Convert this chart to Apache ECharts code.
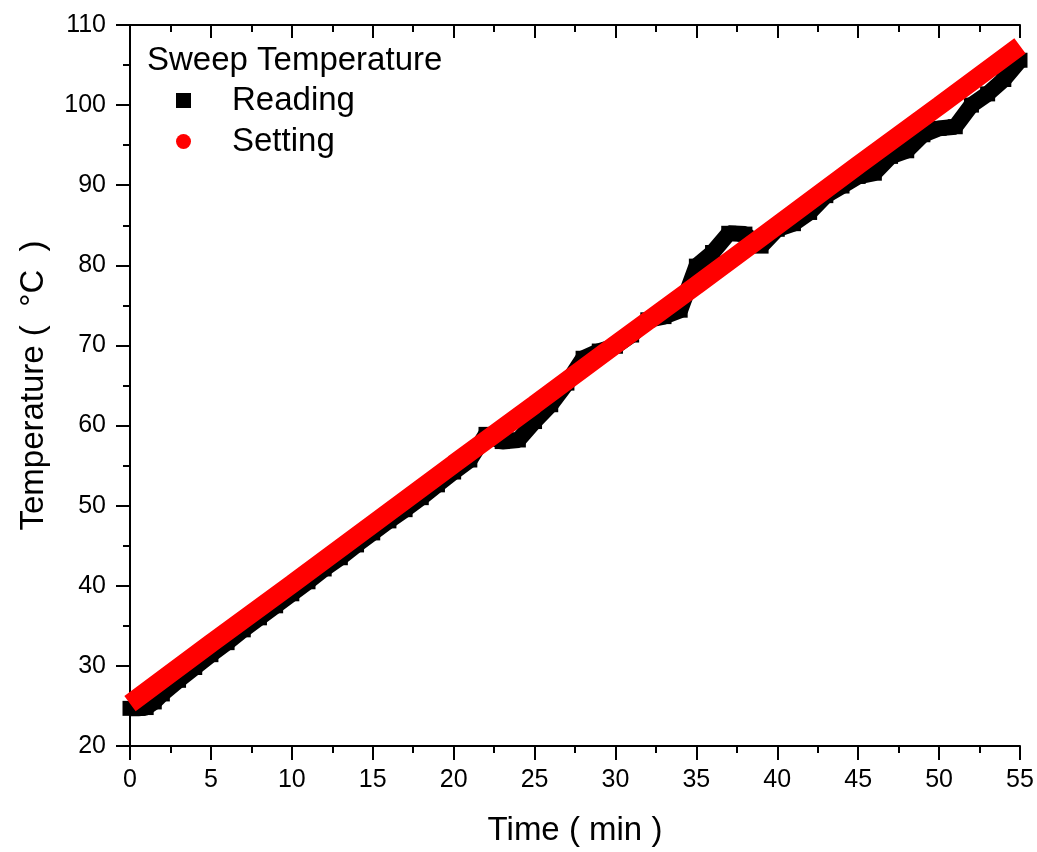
<!DOCTYPE html>
<html>
<head>
<meta charset="utf-8">
<title>Sweep Temperature</title>
<script src="https://cdn.jsdelivr.net/npm/echarts@6/dist/echarts.min.js"></script>
<style>
  html, body { margin: 0; padding: 0; background: #fff; }
  #chart { width: 1037px; height: 852px; }
</style>
</head>
<body>
<div id="chart"></div>
<script>
// reading (black squares)
const readTime = [0, 0.5, 1, 1.5, 2, 3, 4, 5, 6, 7, 8, 9, 10, 11, 12, 13, 14, 15, 16, 17, 18, 19, 20, 21, 22, 23, 24, 25, 26, 27, 28, 29, 30, 31, 32, 33, 34, 35, 36, 37, 38, 39, 40, 41, 42, 43, 44, 45, 46, 47, 48, 49, 50, 51, 52, 53, 54, 55]
const readTemp = [24.7, 24.7, 24.8, 25.5, 26.5, 28.2, 29.8, 31.4, 32.9, 34.5, 36.0, 37.5, 39.0, 40.5, 42.1, 43.5, 45.1, 46.6, 48.1, 49.5, 51.0, 52.6, 54.2, 55.7, 58.9, 58.0, 58.2, 60.5, 62.6, 65.3, 68.4, 69.3, 69.9, 71.3, 73.2, 73.6, 74.4, 79.9, 81.6, 84.0, 83.9, 82.4, 84.5, 85.2, 86.6, 88.7, 89.9, 91.1, 91.5, 93.6, 94.3, 96.3, 97.1, 97.3, 100.0, 101.4, 103.2, 105.6]

// setting (red circles)
const setTime = [0, 5, 10, 15, 20, 25, 30, 35, 40, 45, 50, 55]
const setTemp = [25.3, 32.8, 40.2, 47.7, 55.2, 62.6, 70.1, 77.5, 85.0, 92.5, 99.9, 107.4]

const chart = echarts.init(document.getElementById('chart'))

const font = 'Liberation Sans, Arial, sans-serif'
const axisLine = { lineStyle: { color: '#000', width: 2 } }

const xBase = { type: 'value', min: 0, max: 55, interval: 5, splitLine: { show: false } }
const yBase = { type: 'value', min: 20, max: 110, interval: 10, splitLine: { show: false } }

const option = {
  animation: false,
  backgroundColor: '#fff',
  title: {
    text: 'Sweep Temperature',
    left: 147,
    top: 44,
    padding: 0,
    textStyle: { fontFamily: font, fontSize: 33, fontWeight: 'normal', color: '#000' }
  },
  legend: {
    orient: 'vertical',
    left: 176,
    top: 84,
    padding: 0,
    itemWidth: 15,
    itemHeight: 15,
    itemGap: 8,
    textStyle: { fontFamily: font, fontSize: 33, color: '#000', padding: [0, 0, 0, 36] },
    data: [
      { name: 'Reading', icon: 'rect' },
      { name: 'Setting', icon: 'circle' }
    ]
  },
  grid: { left: 130, right: 17, top: 25, bottom: 104 },
  xAxis: [
    Object.assign({}, xBase, {
      position: 'bottom',
      name: 'Time ( min )',
      nameLocation: 'middle',
      nameGap: 68,
      nameTextStyle: { fontFamily: font, fontSize: 33, color: '#000' },
      axisLine: axisLine,
      axisTick: { inside: false, length: 14, lineStyle: { color: '#000', width: 2 } },
      minorTick: { show: true, splitNumber: 2, length: 7, lineStyle: { color: '#000', width: 2 } },
      axisLabel: { margin: 22, fontFamily: font, fontSize: 25, color: '#000' }
    }),
    Object.assign({}, xBase, {
      position: 'top',
      axisLine: axisLine,
      axisTick: { inside: true, length: 13, lineStyle: { color: '#000', width: 2 } },
      minorTick: { show: true, splitNumber: 2, length: 7, lineStyle: { color: '#000', width: 2 } },
      axisLabel: { show: false }
    })
  ],
  yAxis: [
    Object.assign({}, yBase, {
      position: 'left',
      name: 'Temperature (  °C  )',
      nameLocation: 'middle',
      nameGap: 80,
      nameTextStyle: { fontFamily: font, fontSize: 33, color: '#000' },
      axisLine: axisLine,
      axisTick: { inside: false, length: 14, lineStyle: { color: '#000', width: 2 } },
      minorTick: { show: true, splitNumber: 2, length: 7, lineStyle: { color: '#000', width: 2 } },
      axisLabel: { margin: 24, fontFamily: font, fontSize: 25, color: '#000' }
    }),
    Object.assign({}, yBase, {
      position: 'right',
      axisLine: axisLine,
      axisTick: { inside: true, length: 13, lineStyle: { color: '#000', width: 2 } },
      minorTick: { show: true, splitNumber: 2, length: 7, lineStyle: { color: '#000', width: 2 } },
      axisLabel: { show: false }
    })
  ],
  series: [
    {
      name: 'Reading',
      type: 'line',
      z: 2,
      xAxisIndex: 0,
      yAxisIndex: 0,
      data: readTime.map((t, i) => [t, readTemp[i]]),
      symbol: 'rect',
      symbolSize: 15,
      showSymbol: true,
      color: '#000',
      itemStyle: { color: '#000' },
      lineStyle: { color: '#000', width: 16 },
      emphasis: { disabled: true }
    },
    {
      name: 'Setting',
      type: 'line',
      z: 3,
      xAxisIndex: 0,
      yAxisIndex: 0,
      data: setTime.map((t, i) => [t, setTemp[i]]),
      showSymbol: false,
      color: '#ff0000',
      itemStyle: { color: '#ff0000' },
      lineStyle: { color: '#ff0000', width: 19 },
      emphasis: { disabled: true }
    }
  ]
}

chart.setOption(option)
</script>
</body>
</html>
